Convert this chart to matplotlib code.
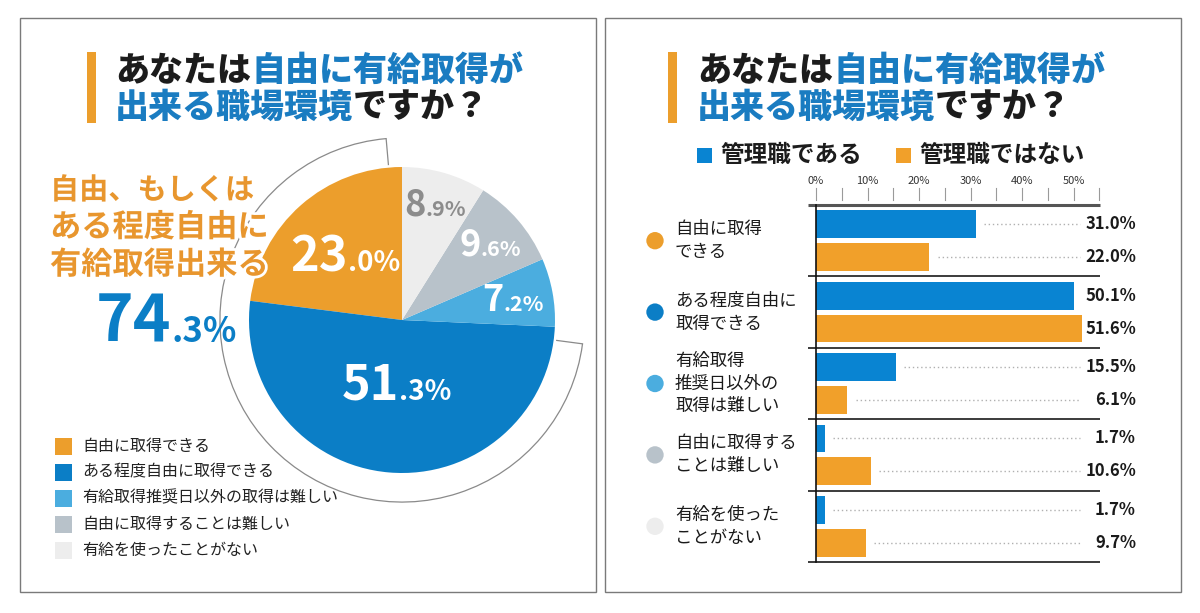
import matplotlib
matplotlib.use('Agg')
import matplotlib.pyplot as plt
from matplotlib import patches, transforms
import matplotlib.patheffects as pe
import numpy as np

FONT = ['Noto Sans CJK JP', 'DejaVu Sans']
plt.rcParams['font.family'] = FONT

# ---- data ----
pie_labels = ['自由に取得できる', 'ある程度自由に取得できる', '有給取得推奨日以外の取得は難しい',
              '自由に取得することは難しい', '有給を使ったことがない']
pie_values = [23.0, 51.3, 7.2, 9.6, 8.9]
combined_text = ['自由、もしくは', 'ある程度自由に', '有給取得出来る']
combined_value = 74.3

bar_categories = ['自由に取得\nできる', 'ある程度自由に\n取得できる', '有給取得\n推奨日以外の\n取得は難しい',
                  '自由に取得する\nことは難しい', '有給を使った\nことがない']
manager = [31.0, 50.1, 15.5, 1.7, 1.7]
non_manager = [22.0, 51.6, 6.1, 10.6, 9.7]
series_names = ['管理職である', '管理職ではない']
tick_values = [0, 10, 20, 30, 40, 50]

title_lines = [[('あなたは', 'dark'), ('自由に有給取得が', 'blue')],
               [('出来る職場環境', 'blue'), ('ですか？', 'dark')]]

# ---- colours ----
ORANGE = '#EC9E2C'
BLUE = '#0B7EC6'
pie_colors = [ORANGE, BLUE, '#4BADDF', '#B8C2CA', '#EDEDED']
BAR_BLUE = '#0984D2'
BAR_ORANGE = '#F1A02A'
TITLE_BLUE = '#1A7CC1'
DARK = '#1c1c1c'

fig = plt.figure(figsize=(12, 6.13), dpi=100)
bg = fig.add_axes([0, 0, 1, 1])
bg.set_xlim(0, 1200)
bg.set_ylim(613, 0)
bg.axis('off')
bg.set_zorder(5)
renderer = fig.canvas.get_renderer()
halo = [pe.withStroke(linewidth=4, foreground='white')]


def runs_text(x, y, runs, size):
    # draw a line of text made of coloured pieces
    for txt, col in runs:
        c = TITLE_BLUE if col == 'blue' else DARK
        t = bg.text(x, y, txt, fontsize=size, fontweight='heavy', color=c, ha='left', va='center')
        x += t.get_window_extent(renderer).width


def split_value(cx, base, value, big, small, color):
    # big integer part + small decimal part, centred on cx
    s = f'{value:.1f}%'
    head, tail = s.split('.')
    t1 = bg.text(0, base, head, fontsize=big, fontweight='bold', color=color, ha='left', va='baseline')
    t2 = bg.text(0, base, '.' + tail, fontsize=small, fontweight='bold', color=color, ha='left', va='baseline')
    w1 = t1.get_window_extent(renderer).width
    w2 = t2.get_window_extent(renderer).width
    x0 = cx - (w1 + w2) / 2
    t1.set_x(x0)
    t2.set_x(x0 + w1)


# panels
for px in [20, 605]:
    bg.add_patch(patches.Rectangle((px, 18), 576, 574, fill=False, ec='#7a7a7a', lw=1))

# titles
for bx, tx in [(87, 115), (668, 697)]:
    bg.add_patch(patches.Rectangle((bx, 52), 9, 71, color=ORANGE, lw=0))
    runs_text(tx, 70, title_lines[0], 24.5)
    runs_text(tx, 107, title_lines[1], 24.5)

# ---- pie ----
cx, cy, R = 402, 320, 153
half = 1.25 * R
pax = fig.add_axes([(cx - half) / 1200, (613 - cy - half) / 613, 2 * half / 1200, 2 * half / 613])
pax.pie(pie_values, colors=pie_colors, startangle=90, counterclock=True, radius=1,
        wedgeprops=dict(linewidth=0))
pax.set_xlim(-1.25, 1.25)
pax.set_ylim(-1.25, 1.25)
pax.set_aspect('equal')
pax.axis('off')

span = 360 * (pie_values[0] + pie_values[1]) / sum(pie_values)
a1, a2 = 90 + 5, 90 + span - 5
pax.add_patch(patches.Arc((0, 0), 2.38, 2.38, theta1=a1, theta2=a2, color='#8a8a8a', lw=0.9))
for a in [a1, a2]:
    r = np.radians(a)
    pax.plot([1.02 * np.cos(r), 1.19 * np.cos(r)], [1.02 * np.sin(r), 1.19 * np.sin(r)],
             color='#8a8a8a', lw=0.9)

cum = np.cumsum([0] + pie_values)
label_r = [0.56, 0.42, 0.74, 0.76, 0.79]
label_size = [(35, 20), (35, 20), (26, 15.5), (26, 15.5), (26, 15.5)]
label_col = ['white', 'white', 'white', 'white', '#8c8c8c']
for i, v in enumerate(pie_values):
    mid = np.radians(90 + 360 * (cum[i] + cum[i + 1]) / 2 / 100)
    lx = cx + label_r[i] * R * np.cos(mid)
    ly = cy - label_r[i] * R * np.sin(mid)
    big, small = label_size[i]
    split_value(lx, ly + big * 0.45, v, big, small, label_col[i])

for i, line in enumerate(combined_text):
    size = 21 if '、' in line else 22.5
    bg.text(50, 190 + 37.5 * i, line, fontsize=size, fontweight='bold', color='#E8962E',
            ha='left', va='center', path_effects=halo)
split_value(166, 342, combined_value, 46, 25, BLUE)

for i, lab in enumerate(pie_labels):
    y = 446 + 26 * i
    bg.add_patch(patches.Rectangle((55, y - 8.5), 17, 17, color=pie_colors[i], lw=0))
    bg.text(82, y, lab, fontsize=11.5, color='#222222', ha='left', va='center')

# ---- bars ----
x0, px_per = 816, 5.15
top, bottom = 205, 562
bax = fig.add_axes([x0 / 1200, (613 - bottom) / 613, 55 * px_per / 1200, (bottom - top) / 613])
idx = np.arange(len(manager))
bax.barh(idx - 0.23, manager, height=0.39, color=BAR_BLUE)
bax.barh(idx + 0.23, non_manager, height=0.39, color=BAR_ORANGE)
bax.set_xlim(0, 55)
bax.set_ylim(len(manager) - 0.5, -0.5)
for s in ['top', 'right', 'bottom']:
    bax.spines[s].set_visible(False)
bax.spines['left'].set_linewidth(1.2)
bax.spines['left'].set_color('#111111')
bax.set_xticks([])
bax.set_yticks([])

xl = -(x0 - 808) / px_per
for k in range(len(manager) + 1):
    y = k - 0.5
    if k == 0:
        bax.plot([xl, 55.2], [y, y], color='#555555', lw=2.2, clip_on=False, solid_capstyle='butt')
    else:
        bax.plot([xl, 55.2], [y, y], color='#1a1a1a', lw=1.2, clip_on=False, solid_capstyle='butt')

# ruler on top
rb = transforms.blended_transform_factory(bax.transData, bax.transAxes)
h = bottom - top
for t in range(0, 60, 5):
    bax.plot([t, t], [(bottom - 188) / h, (bottom - 200) / h], color='#9a9a9a', lw=0.8,
             transform=rb, clip_on=False)
for t in tick_values:
    bax.text(t, (bottom - 181) / h, f'{t}%', transform=rb, ha='center', va='center',
             fontsize=8, color='#333333')

blend = transforms.blended_transform_factory(bg.transData, bax.transData)
bax.scatter([655] * len(idx), idx, s=12.5 ** 2, c=pie_colors, transform=blend, clip_on=False,
            linewidths=0)
for i, lab in enumerate(bar_categories):
    bax.text(675, i, lab, transform=blend, ha='left', va='center', fontsize=12.5,
             linespacing=1.35, color='#1a1a1a', clip_on=False)

dot_end = (1080 - x0) / px_per
for vals, off in [(manager, -0.23), (non_manager, 0.23)]:
    for i, v in enumerate(vals):
        y = i + off
        if v + 1.6 < dot_end - 1:
            bax.plot([v + 1.6, dot_end], [y, y], color='#b0b0b0', lw=1.0, ls=(0, (1, 2)))
        bax.text(1136, y, f'{v:.1f}%', transform=blend, ha='right', va='center',
                 fontsize=12, fontweight='bold', color='#1a1a1a', clip_on=False)

# series legend
for (sx, col), name in zip([(697, BAR_BLUE), (896, BAR_ORANGE)], series_names):
    bg.add_patch(patches.Rectangle((sx, 148), 15, 15, color=col, lw=0))
    bg.text(sx + 23, 155, name, fontsize=17, fontweight='bold', color=DARK, ha='left', va='center')

fig.savefig('out.png', dpi=100)
